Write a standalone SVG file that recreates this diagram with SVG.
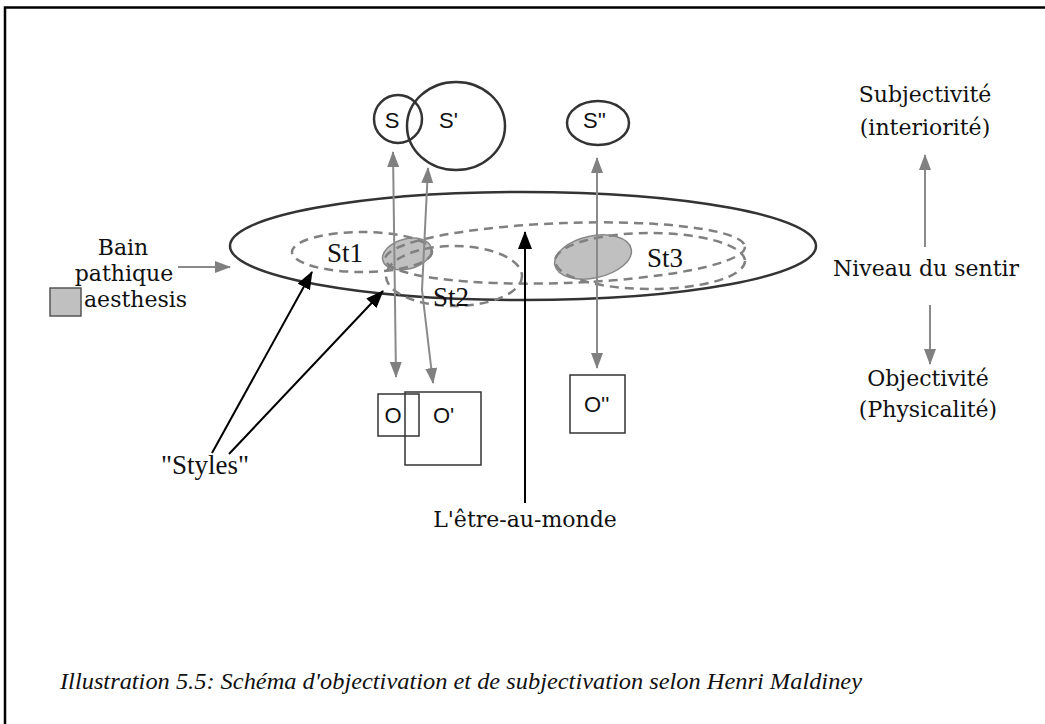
<svg xmlns="http://www.w3.org/2000/svg" width="1045" height="724" viewBox="0 0 1045 724">
<style>
.ser{font-family:"DejaVu Serif","Liberation Serif",serif;font-size:22px;fill:#111}
.st{font-family:"Liberation Serif","Times New Roman",serif;font-size:27px;fill:#111}
.sans{font-family:"Liberation Sans",Arial,sans-serif;font-size:22px;fill:#111}
.dash{fill:none;stroke:#808080;stroke-width:2.5;stroke-dasharray:9 6}
.blob{fill:#c0c0c0;stroke:#888;stroke-width:1.5}
.garrow{fill:none;stroke:#8a8a8a;stroke-width:2}
.barrow{fill:none;stroke:#000;stroke-width:2}
.shape{fill:none;stroke:#333;stroke-width:2.5}
.box{fill:none;stroke:#333;stroke-width:1.5}
</style>
<defs>
<marker id="gh" markerUnits="userSpaceOnUse" markerWidth="16" markerHeight="12" refX="15" refY="6" orient="auto-start-reverse"><path d="M0,0 L16,6 L0,12 z" fill="#808080"/></marker>
<marker id="bh" markerUnits="userSpaceOnUse" markerWidth="18" markerHeight="14" refX="17" refY="7" orient="auto"><path d="M0,0 L18,7 L0,14 z" fill="#000"/></marker>
</defs>
<rect width="1045" height="724" fill="#fff"/>
<path d="M5,724 V7.5 H1045" fill="none" stroke="#000" stroke-width="2.5"/>

<g id="bain">
<ellipse cx="523" cy="246" rx="293" ry="54" class="shape" stroke-width="3"/>
</g>
<g id="aesthesis-blobs">
<ellipse cx="407" cy="254" rx="25" ry="15" transform="rotate(-15 407 254)" class="blob"/>
<ellipse cx="593" cy="257" rx="39" ry="21" transform="rotate(-12 593 257)" class="blob"/>
</g>
<g id="styles-ellipses">
<ellipse cx="362" cy="252" rx="70" ry="20" class="dash"/>
<ellipse cx="454" cy="276" rx="68" ry="30" class="dash"/>
<ellipse cx="565" cy="253" rx="180" ry="30" transform="rotate(-2 565 253)" class="dash"/>
<ellipse cx="650" cy="261" rx="95" ry="28" class="dash"/>
</g>
<g id="St-labels">
<text class="st" x="327" y="262">St1</text>
<text class="st" x="433" y="306">St2</text>
<text class="st" x="647" y="267">St3</text>
</g>

<g id="S">
<circle cx="398" cy="119" r="24" class="shape"/>
<text class="sans" x="392" y="128" text-anchor="middle">S</text>
</g>
<g id="S1">
<ellipse cx="456" cy="126" rx="49" ry="44" class="shape"/>
<text class="sans" x="439" y="128">S'</text>
</g>
<g id="S2">
<ellipse cx="598" cy="123" rx="31" ry="22" class="shape"/>
<text class="sans" x="583" y="128">S''</text>
</g>
<g id="O">
<rect x="378" y="394" width="41" height="42" class="box"/>
<text class="sans" x="393" y="423" text-anchor="middle">O</text>
</g>
<g id="O1">
<rect x="405" y="392" width="76" height="73" class="box"/>
<text class="sans" x="433" y="423">O'</text>
</g>
<g id="O2">
<rect x="570" y="375" width="55" height="58" class="box"/>
<text class="sans" x="584" y="412">O''</text>
</g>

<g id="labels">
<text class="ser" x="123" y="255" text-anchor="middle">Bain</text>
<text class="ser" x="124" y="281" text-anchor="middle">pathique</text>
<rect x="50" y="288" width="31" height="28" fill="#c0c0c0" stroke="#555" stroke-width="1.5"/>
<text class="ser" x="84" y="307">aesthesis</text>
<text class="st" x="205" y="474" text-anchor="middle" font-size="25">"Styles"</text>
<text class="ser" x="525" y="527" text-anchor="middle">L'être-au-monde</text>
<text class="ser" x="925" y="102" text-anchor="middle">Subjectivité</text>
<text class="ser" x="925" y="135" text-anchor="middle">(interiorité)</text>
<text class="ser" x="926" y="276" text-anchor="middle">Niveau du sentir</text>
<text class="ser" x="928" y="386" text-anchor="middle">Objectivité</text>
<text class="ser" x="928" y="417" text-anchor="middle">(Physicalité)</text>
</g>

<g id="connectors">
<line x1="393" y1="152" x2="396" y2="377" class="garrow" marker-start="url(#gh)" marker-end="url(#gh)"/>
<polyline points="428,168 422,290 433,383" class="garrow" marker-start="url(#gh)" marker-end="url(#gh)"/>
<line x1="597" y1="158" x2="597" y2="368" class="garrow" marker-start="url(#gh)" marker-end="url(#gh)"/>
<line x1="178" y1="267" x2="230" y2="267" class="garrow" marker-end="url(#gh)"/>
<line x1="925" y1="247" x2="925" y2="155" class="garrow" marker-end="url(#gh)"/>
<line x1="930" y1="305" x2="930" y2="364" class="garrow" marker-end="url(#gh)"/>
<line x1="525" y1="503" x2="525" y2="232" class="barrow" marker-end="url(#bh)"/>
<line x1="212" y1="453" x2="312" y2="272" class="barrow" marker-end="url(#bh)"/>
<line x1="229" y1="454" x2="383" y2="291" class="barrow" marker-end="url(#bh)"/>
</g>

<text x="60" y="689" font-family="Liberation Serif, serif" font-style="italic" font-size="23" textLength="802" lengthAdjust="spacingAndGlyphs" fill="#111">Illustration 5.5: Schéma d'objectivation et de subjectivation selon Henri Maldiney</text>
</svg>
